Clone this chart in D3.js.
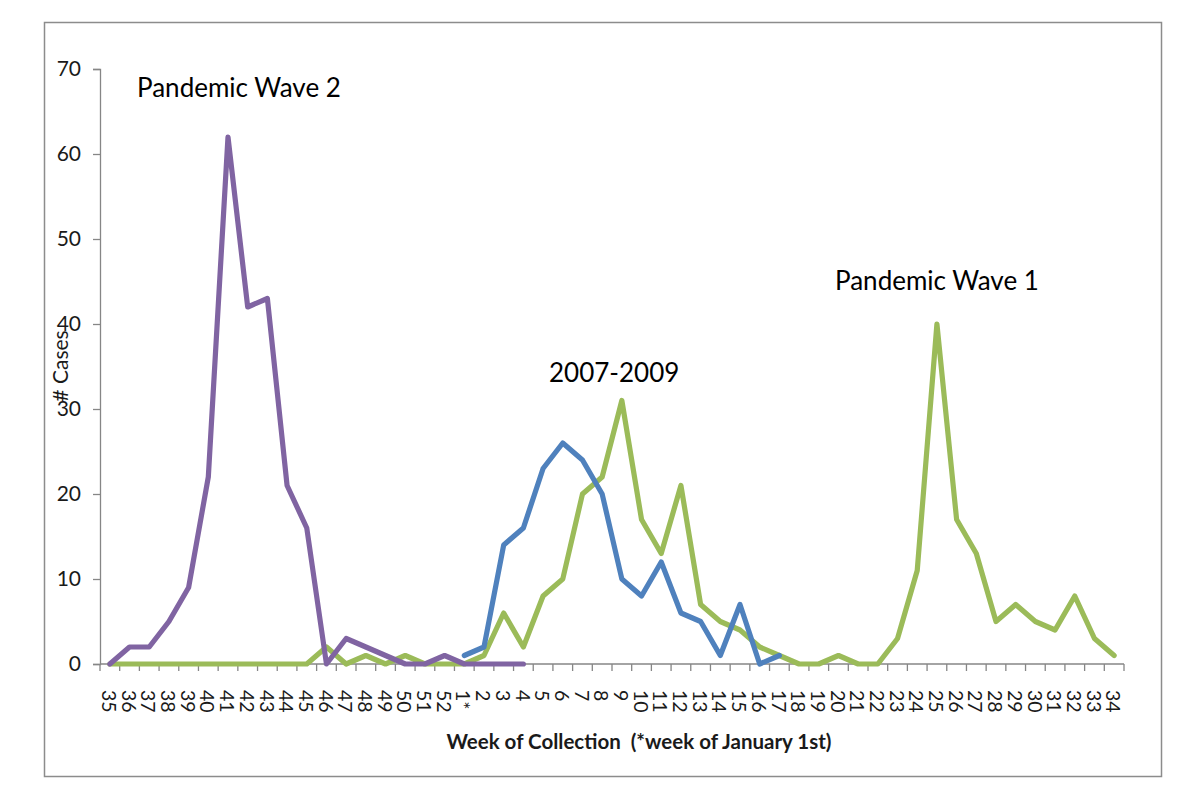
<!DOCTYPE html>
<html>
<head>
<meta charset="utf-8">
<script src="https://cdn.jsdelivr.net/npm/d3@7"></script>
<style>
  body { margin: 0; background: #fff; }
  svg text { font-family: Lato, "Open Sans", sans-serif; }
</style>
</head>
<body>
<svg id="chart" width="1200" height="807"></svg>
<script>
// ---- Data ----
const weeks = ["35","36","37","38","39","40","41","42","43","44","45","46","47","48","49","50","51","52","1*",
  "2","3","4","5","6","7","8","9","10","11","12","13","14","15","16","17","18","19","20","21","22","23","24",
  "25","26","27","28","29","30","31","32","33","34"];

// Pandemic Wave 2 (purple): weeks 35 .. 4
const wave2Weeks = ["35","36","37","38","39","40","41","42","43","44","45","46","47","48","49","50","51","52","1*","2","3","4"];
const wave2Values = [0,2,2,5,9,22,62,42,43,21,16,0,3,2,1,0,0,1,0,0,0,0];

// 2007-2009 (blue): weeks 1* .. 17
const seasonalWeeks = ["1*","2","3","4","5","6","7","8","9","10","11","12","13","14","15","16","17"];
const seasonalValues = [1,2,14,16,23,26,24,20,10,8,12,6,5,1,7,0,1];

// Green series: weeks 35 .. 34
const greenWeeks = weeks;
const greenValues = [0,0,0,0,0,0,0,0,0,0,0,2,0,1,0,1,0,0,0,
  1,6,2,8,10,20,22,31,17,13,21,7,5,4,2,1,0,0,1,0,0,3,11,
  40,17,13,5,7,5,4,8,3,1];

const yTicks = [0,10,20,30,40,50,60,70];
const annotationTexts = ["Pandemic Wave 2", "2007-2009", "Pandemic Wave 1"];

// ---- Layout ----
const svg = d3.select("#chart");
const L = { left: 100, right: 1124, top: 69, bottom: 664 };

svg.append("rect")
  .attr("x", 44.5).attr("y", 22.5).attr("width", 1117).attr("height", 754)
  .attr("fill", "#fff").attr("stroke", "#8c8c8c").attr("stroke-width", 1.5);

const x = d3.scalePoint().domain(weeks).range([L.left, L.right]).padding(0.5);
const step = x.step();
const y = d3.scaleLinear().domain([0, 70]).range([L.bottom, L.top]);

// Y axis
const yAxis = d3.axisLeft(y).tickValues(yTicks).tickSize(7).tickPadding(12);
const gy = svg.append("g").attr("transform", `translate(${L.left},0)`).call(yAxis);
gy.select(".domain").attr("stroke", "#868686").attr("stroke-width", 1.3);
gy.selectAll(".tick line").attr("stroke", "#868686").attr("stroke-width", 1.3);
gy.selectAll(".tick text").attr("font-size", 21).attr("fill", "#1a1a1a")
  .style("font-family", "Lato, sans-serif");

// X axis: ticks between categories
const gx = svg.append("g").attr("transform", `translate(0,${L.bottom})`);
gx.append("line").attr("x1", L.left).attr("x2", L.right).attr("y1", 0).attr("y2", 0)
  .attr("stroke", "#868686").attr("stroke-width", 1.3);
const boundaries = weeks.map(w => x(w) - step / 2).concat([x(weeks[weeks.length - 1]) + step / 2]);
gx.selectAll("line.tk").data(boundaries).join("line").attr("class", "tk")
  .attr("x1", d => d).attr("x2", d => d).attr("y1", 0).attr("y2", 7)
  .attr("stroke", "#868686").attr("stroke-width", 1.3);
gx.selectAll("text.lbl").data(weeks).join("text").attr("class", "lbl")
  .attr("transform", d => `translate(${x(d) - 1},26) rotate(90)`)
  .attr("dy", "0.35em")
  .attr("font-size", 19.5).attr("fill", "#1a1a1a")
  .text(d => d);

// Axis titles
svg.append("text").attr("transform", "translate(68,366) rotate(-90)")
  .attr("text-anchor", "middle").attr("font-size", 21).attr("fill", "#1a1a1a")
  .text("# Cases");
svg.append("text").attr("x", 639).attr("y", 749)
  .attr("text-anchor", "middle").attr("font-size", 20.5).attr("font-weight", "bold")
  .attr("fill", "#1a1a1a").style("white-space", "pre")
  .text("Week of Collection  (*week of January 1st)");

// Lines
const line = d3.line().x(d => x(d.w)).y(d => y(d.v)).curve(d3.curveLinear);
const series = [
  { weeks: greenWeeks, values: greenValues, color: "#9BBB59" },
  { weeks: wave2Weeks, values: wave2Values, color: "#8064A2" },
  { weeks: seasonalWeeks, values: seasonalValues, color: "#4F81BD" }
];
series.forEach(s => {
  const pts = s.weeks.map((w, i) => ({ w, v: s.values[i] }));
  svg.append("path").datum(pts).attr("d", line)
    .attr("fill", "none").attr("stroke", s.color).attr("stroke-width", 5.2)
    .attr("stroke-linejoin", "round").attr("stroke-linecap", "round");
});

// Annotations (positions in pixels)
const annPos = [[137, 97], [549, 382], [835, 290]];
annotationTexts.forEach((t, i) => {
  svg.append("text").attr("x", annPos[i][0]).attr("y", annPos[i][1])
    .attr("font-size", 26).attr("fill", "#000").text(t);
});
</script>
</body>
</html>
